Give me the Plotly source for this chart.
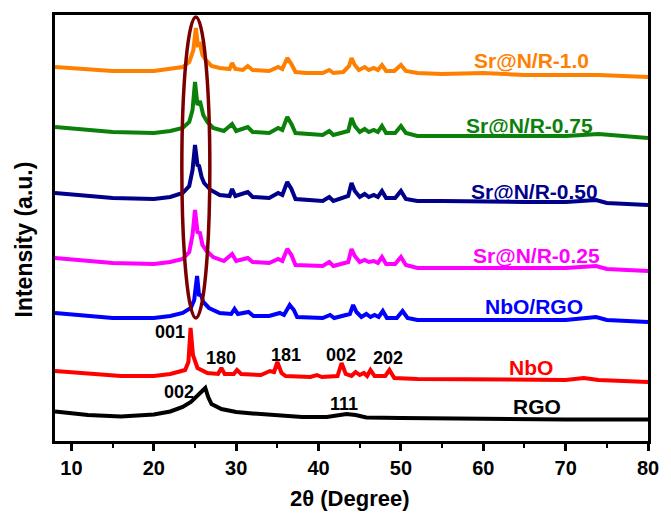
import plotly.graph_objects as go

# ---------------- data (2theta in degrees, stacked intensity in a.u.) ----------------
rgo_x = [8, 12, 16, 20, 22, 23.5, 24.5, 25.4, 26.0, 26.25, 26.6, 27.0, 28.2, 30, 32, 35, 38, 41, 42.5, 43.4, 44.5, 45.8, 50, 55, 60, 70, 80]
rgo_y = [28.5, 25, 23.5, 25.5, 28.5, 33, 38, 45, 50, 52, 43, 36, 31, 28, 26.5, 24.5, 23, 23, 25, 26, 25, 22.5, 22, 21.5, 21, 20.5, 20.5]

nbo_x = [8, 12, 16, 20, 22, 23.8, 24.2, 24.46, 24.75, 25.3, 26.5, 27.8, 28.2, 28.6, 29.7, 30.1, 30.6, 33, 34.1, 34.6, 35.0, 35.5, 36, 39, 39.8, 40.4, 42.3, 42.8, 43.3, 44, 44.5, 45, 45.5, 45.9, 46.3, 46.8, 48.1, 48.6, 49.2, 52, 55, 60, 65, 70, 72.2, 74, 80]
nbo_y = [69, 66, 64, 64, 66, 70, 78, 112, 85, 72, 67, 66, 72, 66, 66, 70, 66, 65, 69, 68, 78, 67, 64, 63, 65, 63, 64, 77, 66, 64, 68, 65, 67, 64, 70, 64, 64, 70, 62, 61, 61, 61, 60, 60, 62, 60, 58]

nborgo_x = [8, 15, 20, 22, 23.5, 24.5, 24.9, 25.25, 25.5, 25.7, 26.0, 26.7, 28, 29.4, 29.8, 30.2, 31.5, 32.1, 34, 35.3, 35.8, 36.5, 37.0, 37.4, 40.5, 41.4, 41.9, 43.8, 44.2, 44.6, 45.2, 45.8, 46.3, 46.8, 47.3, 47.8, 48.3, 49.5, 50.2, 50.8, 52, 55, 60, 65, 70, 73.7, 75, 80]
nborgo_y = [127, 122, 122, 124, 127, 132, 140, 164, 144, 146, 138, 132, 127, 126, 131, 126, 128, 124, 124, 127, 125, 135, 130, 123, 122, 125, 122, 126, 135, 128, 123, 126, 123, 125, 123, 129, 122, 122, 129, 122, 120, 120, 121, 120, 120, 123, 120, 118]

s025_x = [8, 15, 20, 22, 23.5, 24.3, 24.7, 25.0, 25.3, 25.6, 25.9, 26.4, 27.2, 28.5, 29.5, 30, 31.4, 32, 34, 35.1, 35.6, 36.2, 36.7, 37.2, 40.5, 41.3, 41.8, 43.6, 44.0, 44.4, 45, 45.6, 46.1, 46.7, 47.2, 47.7, 48.2, 49.3, 50, 50.6, 52, 55, 60, 65, 70, 73.7, 75, 80]
s025_y = [182, 177, 176, 178, 181, 188, 205, 230, 208, 207, 195, 189, 183, 179, 186, 179, 182, 178, 177, 181, 179, 191, 185, 175, 174, 178, 174, 178, 191, 184, 178, 180, 178, 179, 177, 183, 176, 176, 183, 175, 172, 172, 173, 172, 172, 174, 171, 169]

s050_x = [8, 15, 20, 22, 23.5, 24.3, 24.7, 25.0, 25.3, 25.5, 25.8, 26.1, 26.9, 28, 29.2, 29.5, 29.9, 31.4, 32, 34, 35.1, 35.6, 36.2, 36.7, 37.2, 40.5, 41.3, 41.8, 43.6, 44.0, 44.4, 45, 45.6, 46.1, 46.7, 47.2, 47.7, 48.2, 49.3, 50.0, 50.6, 52, 55, 60, 65, 70, 73.7, 75, 80]
s050_y = [247, 242, 241, 243, 247, 254, 270, 295, 275, 274, 263, 257, 250, 245, 244, 251, 244, 248, 243, 242, 247, 245, 258, 251, 241, 239, 243, 239, 244, 257, 249, 243, 246, 243, 245, 243, 249, 242, 242, 249, 241, 239, 239, 238, 238, 238, 240, 237, 235]

s075_x = [8, 15, 20, 22, 23.5, 24.3, 24.7, 25.0, 25.3, 25.6, 26.0, 26.5, 27.2, 28.5, 29.5, 30, 31.4, 32, 34, 35.1, 35.6, 36.2, 36.7, 37.2, 40.5, 41.3, 41.8, 43.6, 44.0, 44.4, 45, 45.6, 46.1, 46.7, 47.2, 47.7, 48.2, 49.3, 50.0, 50.6, 52, 55, 60, 65, 70, 74, 80]
s075_y = [313, 308, 307, 309, 312, 318, 330, 358, 335, 339, 325, 318, 312, 309, 316, 309, 313, 308, 307, 312, 310, 323, 316, 307, 305, 309, 305, 309, 322, 314, 308, 311, 308, 310, 308, 314, 307, 307, 314, 307, 304, 304, 305, 305, 304, 306, 302]

s100_x = [8, 15, 20, 22, 23.5, 24.3, 24.8, 25.1, 25.35, 25.6, 25.9, 26.3, 27, 28, 29.2, 29.5, 29.9, 30.8, 31.4, 32, 34, 35.1, 35.6, 36.2, 36.7, 37.2, 38.5, 40.5, 41.3, 41.8, 43, 43.7, 44.0, 44.4, 44.9, 45.6, 46.1, 46.7, 47.2, 47.7, 48.2, 49.2, 50.0, 50.6, 52, 55, 60, 65, 70, 74, 80]
s100_y = [373, 369, 369, 371, 373, 378, 390, 412, 395, 396, 385, 380, 374, 372, 371, 377, 371, 370, 374, 370, 369, 373, 371, 382, 376, 368, 367, 367, 370, 367, 368, 374, 382, 375, 370, 373, 370, 372, 370, 375, 369, 369, 375, 369, 367, 366, 367, 365, 365, 365, 363]

series_names = ["RGO", "NbO", "NbO/RGO", "Sr@N/R-0.25", "Sr@N/R-0.50", "Sr@N/R-0.75", "Sr@N/R-1.0"]
series_x = [rgo_x, nbo_x, nborgo_x, s025_x, s050_x, s075_x, s100_x]
series_y = [rgo_y, nbo_y, nborgo_y, s025_y, s050_y, s075_y, s100_y]
series_colors = ["#000000", "#FF0000", "#0000FF", "#FF00FF", "#00008B", "#0B800B", "#FF8000"]

# label positions (2theta, a.u.)
label_x = [66.5, 65.8, 66.2, 66.5, 66.2, 65.6, 65.8]
label_y = [34, 73, 134, 185, 249, 315, 380]

peak_text = ["001", "180", "181", "002", "202", "002", "111"]
peak_x = [22.0, 28.1, 36.0, 42.7, 48.4, 23.1, 43.05]
peak_y = [108, 82, 85, 85, 82, 48, 36]

x_ticks = [10, 20, 30, 40, 50, 60, 70, 80]

FONT = "Liberation Sans, Arial, sans-serif"

fig = go.Figure()
for name, xs, ys, col in zip(series_names, series_x, series_y, series_colors):
    fig.add_trace(go.Scatter(x=xs, y=ys, mode="lines", name=name,
                             line=dict(color=col, width=4), showlegend=False))

annotations = []
for name, lx, ly, col in zip(series_names, label_x, label_y, series_colors):
    annotations.append(dict(x=lx, y=ly, xref="x", yref="y", text=name, showarrow=False,
                            font=dict(family=FONT, size=21, color=col, weight="bold"),
                            xanchor="center", yanchor="middle"))
for t, px, py in zip(peak_text, peak_x, peak_y):
    annotations.append(dict(x=px, y=py, xref="x", yref="y", text=t, showarrow=False,
                            font=dict(family=FONT, size=18, color="black", weight="bold"),
                            xanchor="center", yanchor="middle"))
annotations.append(dict(x=0.498, y=-0.135, xref="paper", yref="paper", text="2θ (Degree)",
                        showarrow=False, xanchor="center", yanchor="middle",
                        font=dict(family=FONT, size=22, color="black", weight="bold")))
annotations.append(dict(x=-0.053, y=0.472, xref="paper", yref="paper", text="Intensity (a.u.)",
                        showarrow=False, xanchor="center", yanchor="middle", textangle=-90,
                        font=dict(family=FONT, size=23, color="black", weight="bold")))

fig.update_layout(
    width=671, height=513,
    margin=dict(l=55, r=14, t=15, b=72),
    paper_bgcolor="white", plot_bgcolor="white",
    annotations=annotations,
    shapes=[dict(type="circle", xref="x", yref="y", x0=23.4, x1=26.8, y0=122, y1=423,
                 line=dict(color="#7A0000", width=3.5))],
)
fig.update_xaxes(range=[8, 80], tickvals=x_ticks, ticks="outside", ticklen=7, tickwidth=2.5,
                 tickcolor="black", showline=True, linewidth=3, linecolor="black", mirror=True,
                 showgrid=False, zeroline=False,
                 tickfont=dict(family=FONT, size=20, color="black", weight="bold"),
                 minor=dict(dtick=5, tick0=0, ticks="outside", ticklen=4, tickwidth=2, tickcolor="black"))
fig.update_yaxes(range=[-1, 425], showticklabels=False, ticks="", showline=True, linewidth=3,
                 linecolor="black", mirror=True, showgrid=False, zeroline=False)

fig.write_html("out.html")
